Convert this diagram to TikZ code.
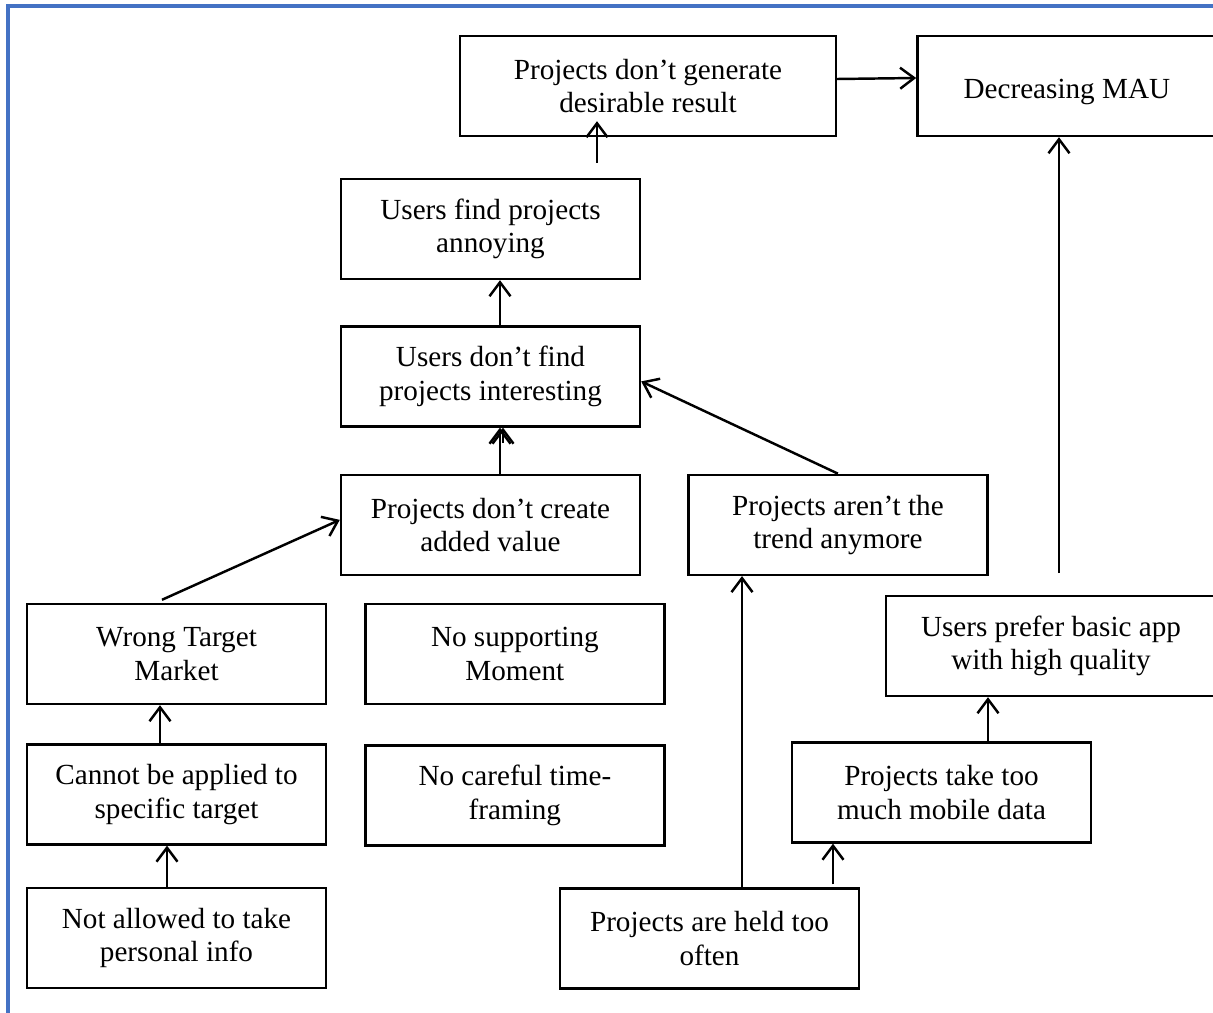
\documentclass[tikz,border=0pt]{standalone}
\usepackage{fontspec}
\setmainfont{Liberation Serif}
\usepackage{xcolor}
\usepackage{tikz}
\definecolor{frameblue}{RGB}{68, 114, 196}
\usetikzlibrary{arrows.meta, positioning}

\begin{document}
\begin{tikzpicture}[
        x=0.02cm, y=-0.02cm,
        node distance=0.9cm,
        every node/.style={font=\fontsize{16.6pt}{19pt}\selectfont},
        box/.style={rectangle, draw=black, line width=1.4pt, minimum width=5.98cm, minimum height=2cm, align=center, inner sep=2pt},
        arrow/.style={line width=1.4pt, -{Straight Barb[length=0.28cm, width=0.42cm]}}
    ]
        \useasboundingbox (0,0) rectangle (1213,1013);
        \clip (0,0) rectangle (1213,1013);

        % Frame
        \draw[frameblue, line width=2pt] (8,6) rectangle (1240,1040);

        % Top row
        \node[box, minimum width=7.52cm] (gen) at (648,86) {Projects don’t generate\\desirable result};
        \node[box, right=1.58cm of gen, text height=0.65cm, text depth=0.13cm] (mau) {Decreasing MAU};

        % Middle column
        \node[box] (annoy) at (490.5,229) {Users find projects\\annoying};
        \node[box, below=0.9cm of annoy] (interest) {Users don’t find\\projects interesting};
        \node[box, below=0.92cm of interest] (added) {Projects don’t create\\added value};
        \node[box, right=0.92cm of added] (trend) {Projects aren’t the\\trend anymore};

        % Left column
        \node[box] (wrong) at (176.5,654) {Wrong Target\\Market};
        \node[box, below=0.76cm of wrong] (apply) {Cannot be applied to\\specific target};
        \node[box, below=0.82cm of apply] (info) {Not allowed to take\\personal info};
        \node[box, right=0.74cm of wrong] (supp) {No supporting\\Moment};
        \node[box, below=0.78cm of supp] (time) {No careful time-\\framing};

        % Right side
        \node[box] (held) at (709.5,938.5) {Projects are held too\\often};
        \node[box] (data) at (941.5,792.5) {Projects take too\\much mobile data};
        \node[box, minimum width=6.6cm] (pref) at (1051,646) {Users prefer basic app\\with high quality};

        % Free ends
        \coordinate (annoytop) at (597,163);
        \coordinate (prefup) at (1059,573);

        % Arrows
        \draw[arrow] ([yshift=0.14cm]gen.east) -- ([yshift=0.16cm]mau.west);
        \draw[arrow] (annoytop) -- ([yshift=0.32cm]annoytop |- gen.south);
        \draw[arrow] ([xshift=0.19cm]interest.north) -- ([xshift=0.19cm]interest.north |- annoy.south);
        \draw[arrow] ([xshift=0.19cm]added.north) -- ([xshift=0.19cm]added.north |- interest.south);
        \draw[arrow] ([xshift=0.25cm, yshift=-0.3cm]added.north |- interest.south) -- ([xshift=0.25cm]added.north |- interest.south);
        \draw[arrow] ([xshift=-0.29cm, yshift=0.06cm]wrong.north) -- ([yshift=0.1cm]added.west);
        \draw[arrow] (trend.north) -- ([yshift=-0.1cm]interest.east);
        \draw[arrow] ([xshift=-0.33cm]apply.north) -- ([xshift=-0.33cm]apply.north |- wrong.south);
        \draw[arrow] ([xshift=-0.19cm]info.north) -- ([xshift=-0.19cm]info.north |- apply.south);
        \draw[arrow] ([xshift=0.65cm]held.north) -- ([xshift=0.65cm]held.north |- trend.south);
        \draw[arrow] ([xshift=2.47cm, yshift=0.06cm]held.north) -- ([xshift=2.47cm]held.north |- data.south);
        \draw[arrow] ([xshift=0.93cm]data.north) -- ([xshift=0.93cm]data.north |- pref.south);
        \draw[arrow] (prefup) -- (prefup |- mau.south);

    \end{tikzpicture}
\end{document}
